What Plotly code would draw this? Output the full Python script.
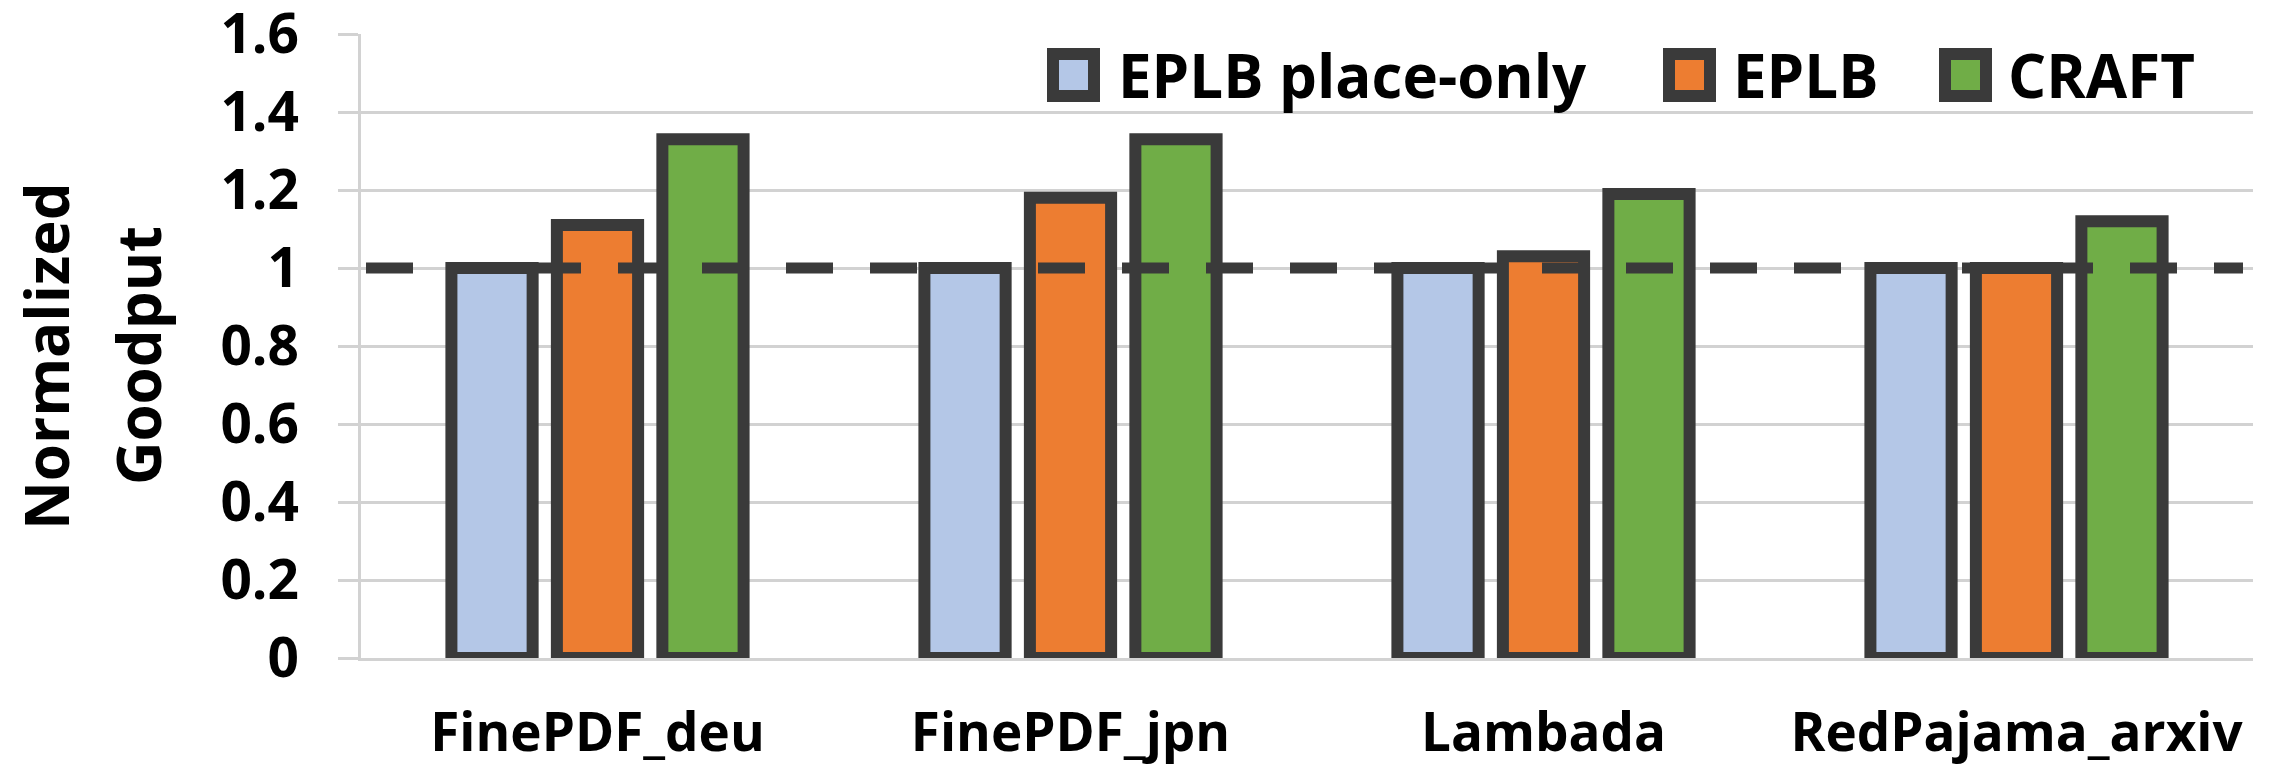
import plotly.graph_objects as go

# ---- data -------------------------------------------------------------
CATEGORIES = ["FinePDF_deu", "FinePDF_jpn", "Lambada", "RedPajama_arxiv"]
SERIES_NAMES = ["EPLB place-only", "EPLB", "CRAFT"]
PLACE_ONLY = [1.0, 1.0, 1.0, 1.0]
EPLB = [1.11, 1.18, 1.03, 1.0]
CRAFT = [1.33, 1.33, 1.19, 1.12]
BASELINE = 1.0
Y_TICKS = [0, 0.2, 0.4, 0.6, 0.8, 1.0, 1.2, 1.4, 1.6]
Y_TICK_TEXT = ["0", "0.2", "0.4", "0.6", "0.8", "1", "1.2", "1.4", "1.6"]

# ---- style ------------------------------------------------------------
FILLS = ["#B4C7E7", "#ED7D31", "#70AD47"]
EDGE = "#3A3A3A"
GRID = "#D2D2D2"
FONT = "Open Sans"

W, H = 2277, 772
ML, MR, MT, MB = 361, 24, 34, 114
PW, PH = W - ML - MR, H - MT - MB


def px_x(x):
    return (x - ML) / PW


def px_y(y):
    return (H - MB - y) / PH


fig = go.Figure()
for name, vals, fill in zip(SERIES_NAMES, [PLACE_ONLY, EPLB, CRAFT], FILLS):
    fig.add_trace(go.Bar(
        name=name, x=CATEGORIES, y=vals,
        marker=dict(color=fill, line=dict(color=EDGE, width=12)),
        cliponaxis=False, showlegend=False,
    ))

# dashed reference line at the baseline goodput
fig.add_shape(
    type="line", xref="paper", yref="y",
    x0=px_x(366), x1=px_x(2243), y0=BASELINE, y1=BASELINE,
    line=dict(color=EDGE, width=11, dash="47px,37px"), layer="above",
)

# legend drawn by hand: framed swatches followed by labels
legend_sym_x = [1053, 1669, 1945]
legend_txt_x = [1116, 1731, 2006]
for name, fill, sx, tx in zip(SERIES_NAMES, FILLS, legend_sym_x, legend_txt_x):
    fig.add_shape(
        type="rect", xref="paper", yref="paper",
        x0=px_x(sx), x1=px_x(sx + 41), y0=px_y(54), y1=px_y(96),
        fillcolor=fill, line=dict(color=EDGE, width=12), layer="above",
    )
    fig.add_annotation(
        text=f"<b>{name}</b>", xref="paper", yref="paper",
        x=px_x(tx), y=px_y(75), xanchor="left", yanchor="middle",
        showarrow=False, font=dict(family=FONT, size=60, color="#000000"),
    )

# two-line y-axis title
for line, cx in [("Normalized", 46), ("Goodput", 138)]:
    fig.add_annotation(
        text=f"<b>{line}</b>", xref="paper", yref="paper",
        x=0, xshift=cx - ML, y=px_y(356), xanchor="center", yanchor="middle",
        textangle=-90, showarrow=False,
        font=dict(family=FONT, size=60, color="#000000"),
    )

fig.update_layout(
    width=W, height=H, autosize=False,
    margin=dict(l=ML, r=MR, t=MT, b=MB, pad=0),
    paper_bgcolor="white", plot_bgcolor="white",
    barmode="group", bargap=0.331, bargroupgap=0.23,
    showlegend=False,
    font=dict(family=FONT, color="#000000"),
)
fig.update_xaxes(
    type="category", range=[-0.5, 3.5], automargin=False,
    showline=True, linecolor=GRID, linewidth=3,
    showgrid=False, ticks="", zeroline=False,
    tickfont=dict(family=FONT, size=53, color="#000000", weight="bold"),
    ticklabelstandoff=26, ticklabeloverflow="allow",
)
fig.update_yaxes(
    range=[0, 1.6], tickvals=Y_TICKS, ticktext=Y_TICK_TEXT, automargin=False,
    showline=True, linecolor=GRID, linewidth=3,
    showgrid=True, gridcolor=GRID, gridwidth=3, zeroline=False,
    ticks="outside", ticklen=20, tickcolor=GRID, tickwidth=3,
    tickfont=dict(family=FONT, size=55, color="#000000", weight="bold"),
    ticklabelstandoff=28, ticklabeloverflow="allow",
)

fig.write_html("out.html")
